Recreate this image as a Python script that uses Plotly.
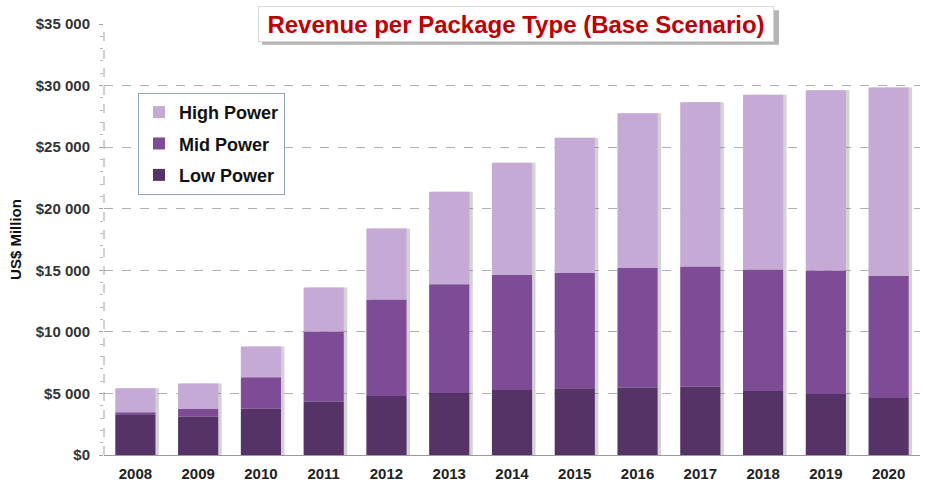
import plotly.graph_objects as go

years = ["2008", "2009", "2010", "2011", "2012", "2013", "2014", "2015", "2016", "2017", "2018", "2019", "2020"]
low_power = [3300, 3100, 3750, 4350, 4800, 5030, 5270, 5430, 5480, 5540, 5200, 4960, 4620]
mid_power = [180, 650, 2560, 5670, 7820, 8840, 9360, 9380, 9710, 9760, 9860, 10030, 9940]
high_power = [1950, 2050, 2510, 3580, 5780, 7510, 9110, 10960, 12560, 13340, 14190, 14640, 15280]
y_ticks = [0, 5000, 10000, 15000, 20000, 25000, 30000, 35000]
y_tick_text = ["$0", "$5 000", "$10 000", "$15 000", "$20 000", "$25 000", "$30 000", "$35 000"]

mid_base = list(low_power)
high_base = [l + m for l, m in zip(low_power, mid_power)]
totals = [b + h for b, h in zip(high_base, high_power)]

C_LOW = "#553366"
C_MID = "#7e4c97"
C_HIGH = "#c4aad4"
FONT = "Liberation Sans, Arial, sans-serif"
BW = 0.64

fig = go.Figure()
# drop shadow behind the bars
fig.add_trace(go.Bar(x=years, y=totals, base=0, width=BW, offset=-BW / 2 + 0.055,
                     marker=dict(color="rgba(110,110,110,0.3)", line=dict(width=0)),
                     showlegend=False, hoverinfo="skip"))
fig.add_trace(go.Bar(x=years, y=low_power, base=0, width=BW, offset=-BW / 2, name="Low Power",
                     legendgroup="c", legendrank=3, marker=dict(color=C_LOW, line=dict(width=0))))
fig.add_trace(go.Bar(x=years, y=mid_power, base=mid_base, width=BW, offset=-BW / 2, name="Mid Power",
                     legendgroup="b", legendrank=2, marker=dict(color=C_MID, line=dict(width=0))))
fig.add_trace(go.Bar(x=years, y=high_power, base=high_base, width=BW, offset=-BW / 2, name="High Power",
                     legendgroup="a", legendrank=1, marker=dict(color=C_HIGH, line=dict(width=0))))

# chart area: 816 px wide, 438 px tall
def px_x(p):
    return (p - 104) / 816

def px_y(p):
    return (462 - p) / 438

shapes = [
    # dashed y axis line
    dict(type="line", xref="paper", yref="paper", x0=0, x1=0, y0=0, y1=1,
         line=dict(color="#a0a0a0", width=1, dash="dash"), layer="above"),
    # title shadow
    dict(type="rect", xref="paper", yref="paper", x0=px_x(262), x1=px_x(779), y0=px_y(45), y1=px_y(10),
         fillcolor="rgba(120,120,120,0.55)", line=dict(width=0), layer="above"),
    # legend shadow
    dict(type="rect", xref="paper", yref="paper", x0=px_x(142), x1=px_x(285), y0=px_y(193), y1=px_y(98),
         fillcolor="rgba(140,140,140,0.5)", line=dict(width=0), layer="above"),
]

fig.update_layout(
    width=926, height=488,
    margin=dict(l=104, r=6, t=24, b=26),
    paper_bgcolor="white", plot_bgcolor="white",
    barmode="overlay",
    font=dict(family=FONT, color="#222222"),
    shapes=shapes,
    showlegend=True,
    legend=dict(x=px_x(138), y=px_y(94), xanchor="left", yanchor="top",
                bgcolor="white", bordercolor="#8fa6b6", borderwidth=1,
                font=dict(size=18, family=FONT, color="#111111", weight="bold"),
                traceorder="grouped", tracegroupgap=5, itemwidth=30),
    annotations=[dict(text="Revenue per Package Type (Base Scenario)", xref="paper", yref="paper",
                      x=px_x(516), y=px_y(24), xanchor="center", yanchor="middle", showarrow=False,
                      font=dict(size=24, family=FONT, color="#c00000", weight="bold"),
                      bgcolor="white", bordercolor="#d8d8d8", borderwidth=1, borderpad=2,
                      width=510, height=30)],
    xaxis=dict(type="category", showgrid=False, showline=True, linecolor="#9a9a9a", linewidth=1,
               ticks="", tickfont=dict(size=15, family=FONT, color="#222222", weight="bold"),
               ticklabelstandoff=5, range=[-0.5, 12.5]),
    yaxis=dict(range=[0, 35000], tickvals=y_ticks, ticktext=y_tick_text,
               showgrid=True, gridcolor="#b0b0b0", griddash="dash", gridwidth=1,
               showline=False, zeroline=False, ticks="outside", ticklen=4, tickcolor="#a0a0a0",
               minor=dict(dtick=1000, ticks="outside", ticklen=3, tickcolor="#b8b8b8", showgrid=False),
               tickfont=dict(size=15, family=FONT, color="#333333", weight="bold"),
               ticklabelstandoff=6,
               title=dict(text="US$ Million", standoff=10,
                          font=dict(size=15, family=FONT, color="#111111", weight="bold"))),
)

fig.write_html("out.html")
